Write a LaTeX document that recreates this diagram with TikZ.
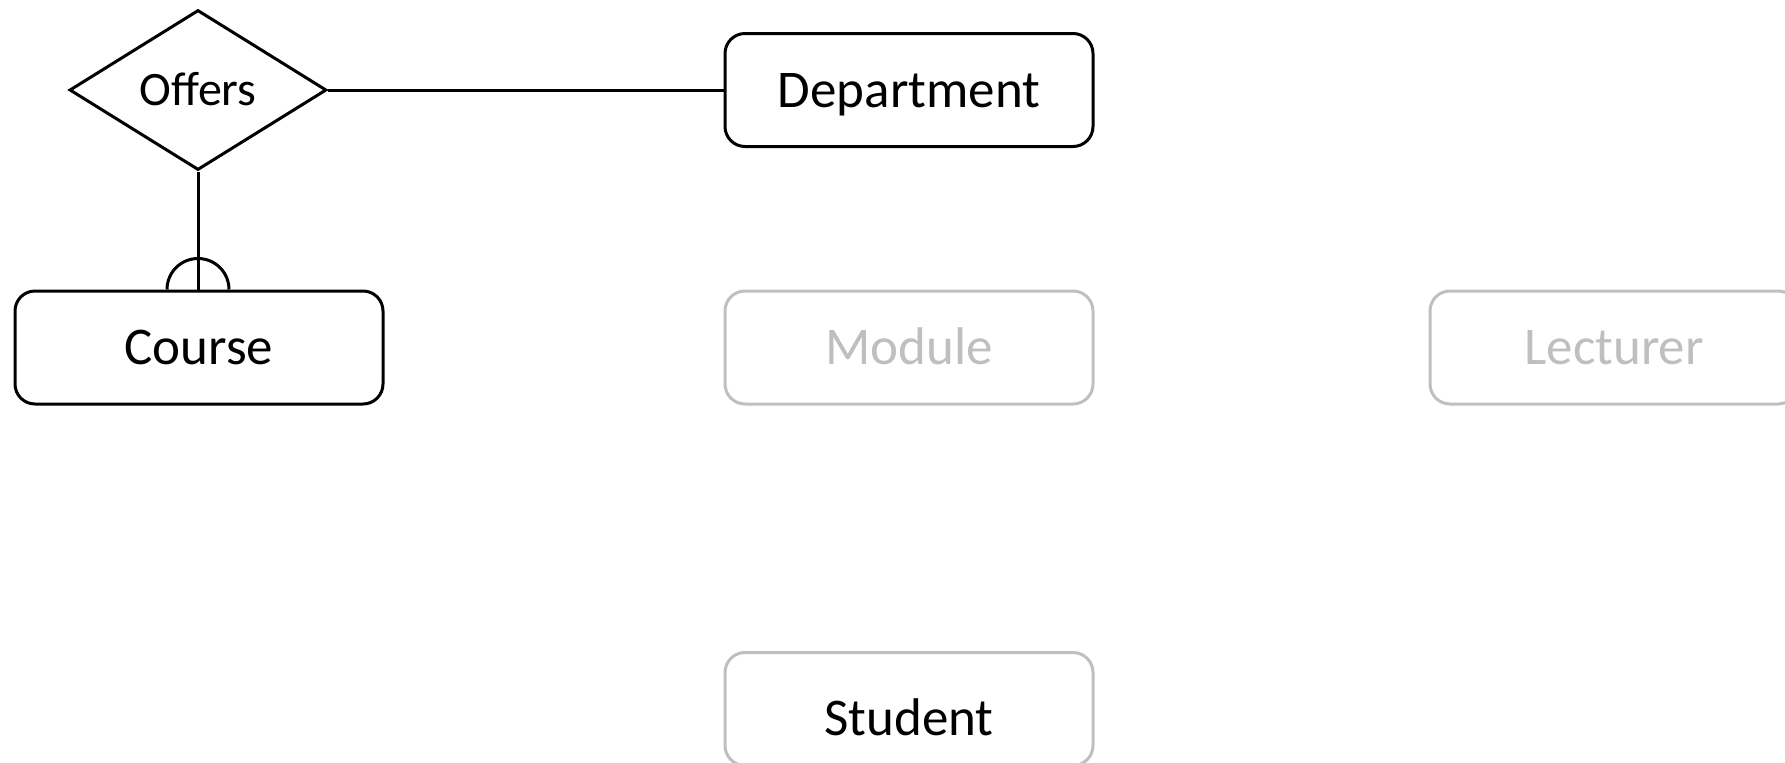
\documentclass[tikz,border=0pt]{standalone}
\usepackage{fontspec}
\setmainfont{Carlito}
\usetikzlibrary{shapes.geometric}
\definecolor{faded}{HTML}{BFBFBF}
\begin{document}
\begin{tikzpicture}[x=0.5pt,y=-0.5pt,
  entity/.style={draw, line width=1.5pt, rounded corners=10pt,
    minimum width=184pt, minimum height=56.5pt, inner sep=0pt,
    text height=17pt, text depth=0pt,
    font=\fontsize{26.5}{30}\selectfont},
  ghost/.style={entity, draw=faded, text=faded},
  pale/.style={entity, draw=faded},
  relation/.style={draw, diamond, line width=1.5pt, inner sep=0pt,
    minimum width=128.5pt, minimum height=80pt,
    text height=15pt, text depth=0pt,
    font=\fontsize{24}{28}\selectfont},
  link/.style={line width=1.5pt}]
\useasboundingbox (0,0) rectangle (1785,762);

% relationship and the entities it joins
\node[relation] (offers) at (198,90) {Offers};
\node[entity] (dept) at (909,90) {Department};
\node[entity] (course) at (199,347.5) {Course};

% entities not yet connected
\node[ghost] (module) at (909,347.5) {Module};
\node[ghost] (lecturer) at (1614,347.5) {Lecturer};
\node[pale, text height=26pt] (student) at (909,709) {Student};

% connectors
\draw[link] (offers.east) -- (dept.west);
\draw[link] (offers.south) -- (offers.south |- course.north);
\draw[link] ([xshift=-15.5pt]offers.south |- course.north)
  arc[start angle=180, end angle=0, radius=15.5pt];
\end{tikzpicture}
\end{document}
